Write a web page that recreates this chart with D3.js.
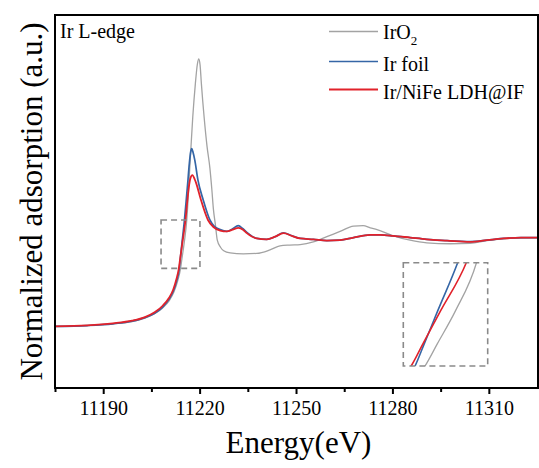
<!DOCTYPE html>
<html>
<head>
<meta charset="utf-8">
<script src="https://cdn.jsdelivr.net/npm/d3@7"></script>
<style>
  html, body { margin: 0; padding: 0; background: #fff; }
  svg { display: block; }
</style>
</head>
<body>
<svg id="chart" width="539" height="468"></svg>
<script>
// Ir L-edge XANES spectra: photon energy (eV) and normalized absorption
const irO2E  = [11175, 11185, 11193, 11199, 11203, 11206, 11208.5, 11210.5, 11212, 11213.2,
                11214.03, 11214.5, 11215.2, 11216.0, 11216.5, 11216.9, 11217.25, 11217.87, 11218.68, 11219.3,
                11219.74, 11220.15, 11220.55, 11221.4, 11222.3, 11223.2, 11223.8, 11224.3, 11224.9, 11225.5,
                11226.5, 11227.5, 11229.5, 11233.6, 11237.8, 11241.9, 11245, 11248, 11251.3, 11255.4,
                11259.6, 11263.7, 11267.9, 11270.9, 11273.1, 11275.2, 11280.3, 11285.5, 11290.7, 11298.0,
                11304.2, 11309.4, 11316.7, 11325.3];
const irO2Mu = [0, 0.01, 0.03, 0.055, 0.095, 0.145, 0.21, 0.29, 0.39, 0.52,
                0.65, 0.77, 0.95, 1.21, 1.50, 1.78, 2.0, 2.38, 2.76, 2.98,
                3.04, 2.97, 2.76, 2.38, 2.05, 1.80, 1.56, 1.33, 1.16, 0.98,
                0.90, 0.86, 0.835, 0.825, 0.83, 0.87, 0.915, 0.925, 0.93, 0.96,
                1.02, 1.08, 1.14, 1.145, 1.12, 1.10, 1.03, 0.98, 0.95, 0.94,
                0.945, 0.975, 1.00, 1.01];

const irFoilE  = [11175, 11185, 11193, 11199, 11203, 11206, 11208.5, 11210.5, 11211.8, 11212.8,
                  11213.65, 11214.0, 11214.52, 11215.28, 11215.75, 11216.3, 11216.8, 11217.2, 11217.55, 11217.95,
                  11218.5, 11219.5, 11221.1, 11223.2, 11224.5, 11226.4, 11228.5, 11230.3, 11232.0, 11233.5,
                  11235, 11237.8, 11240.9, 11243.5, 11246.1, 11248.7, 11251.3, 11255.4, 11259.6, 11263.7,
                  11267.9, 11273.1, 11276.2, 11280.2, 11285.5, 11290.7, 11297.0, 11304.2, 11309.4, 11314.6,
                  11320, 11325.3];
const irFoilMu = [0, 0.01, 0.03, 0.06, 0.10, 0.15, 0.22, 0.31, 0.40, 0.51,
                  0.65, 0.77, 0.95, 1.21, 1.40, 1.63, 1.85, 1.98, 2.02, 1.98,
                  1.89, 1.66, 1.44, 1.21, 1.14, 1.10, 1.08, 1.11, 1.145, 1.11,
                  1.06, 1.00, 0.99, 1.02, 1.065, 1.03, 1.00, 0.99, 0.975, 0.98,
                  1.01, 1.04, 1.04, 1.03, 1.01, 0.99, 0.975, 0.965, 0.98, 1.00,
                  1.01, 1.01];

const ldhE  = [11175, 11185, 11193, 11199, 11203, 11206, 11208.5, 11210.5, 11211.8, 11212.8,
               11213.5, 11213.95, 11214.63, 11215.61, 11216.1, 11216.6, 11217.1, 11217.75, 11218.5, 11219.0,
               11220.4, 11222.6, 11224.3, 11226.4, 11228.5, 11230.3, 11232.1, 11233.5, 11234.7, 11237.8,
               11240.9, 11243.5, 11246.1, 11248.7, 11251.3, 11255.4, 11259.6, 11263.7, 11267.9, 11273.1,
               11276.2, 11280.2, 11285.5, 11290.7, 11297.0, 11304.2, 11309.4, 11314.6, 11320, 11325.3];
const ldhMu = [0, 0.012, 0.035, 0.065, 0.105, 0.16, 0.235, 0.325, 0.42, 0.54,
               0.65, 0.77, 0.95, 1.21, 1.40, 1.57, 1.68, 1.72, 1.67, 1.62,
               1.44, 1.21, 1.13, 1.09, 1.08, 1.10, 1.12, 1.10, 1.06, 1.00,
               0.99, 1.02, 1.06, 1.03, 1.00, 0.99, 0.975, 0.98, 1.01, 1.04,
               1.04, 1.03, 1.01, 0.99, 0.975, 0.96, 0.98, 1.00, 1.01, 1.01];

const seriesNames = ["IrO", "Ir foil", "Ir/NiFe LDH@IF"];
const majorTicks = [11190, 11220, 11250, 11280, 11310];
const minorTicks = [11175, 11205, 11235, 11265, 11295];

// axis ranges
const energyDomain = [11175, 11325.3];
const muDomain = [-0.70, 3.54];
// region around the absorption edge, and the window shown enlarged
const zoomE = [11208.0, 11220.1];
const zoomMu = [0.66, 1.21];
const insetE = [11213.2, 11216.43];
const insetMu = [0.65, 1.21];

const FONT = '"Liberation Serif", "Times New Roman", Times, serif';

const svg = d3.select("#chart");
const M = { left: 55, right: 538, top: 15, bottom: 388 };

const x = d3.scaleLinear().domain(energyDomain).range([M.left, M.right]);
const y = d3.scaleLinear().domain(muDomain).range([M.bottom, M.top]);

const colors = ["#a3a3a3", "#3566a6", "#e1222b"];
const widths = [1.3, 1.7, 1.8];

const series = [
  d3.zip(irO2E, irO2Mu),
  d3.zip(irFoilE, irFoilMu),
  d3.zip(ldhE, ldhMu)
];

const defs = svg.append("defs");
defs.append("clipPath").attr("id", "plotClip")
  .append("rect")
  .attr("x", M.left).attr("y", M.top)
  .attr("width", M.right - M.left).attr("height", M.bottom - M.top);

const line = d3.line()
  .x(d => x(d[0])).y(d => y(d[1]))
  .curve(d3.curveMonotoneX);

const plot = svg.append("g").attr("clip-path", "url(#plotClip)");
series.forEach((s, i) => {
  plot.append("path")
    .attr("d", line(s))
    .attr("fill", "none")
    .attr("stroke", colors[i])
    .attr("stroke-width", widths[i])
    .attr("stroke-linejoin", "round");
});

// dashed marker around the edge region
svg.append("rect")
  .attr("x", x(zoomE[0])).attr("y", y(zoomMu[1]))
  .attr("width", x(zoomE[1]) - x(zoomE[0]))
  .attr("height", y(zoomMu[0]) - y(zoomMu[1]))
  .attr("fill", "none").attr("stroke", "#8a8a8a")
  .attr("stroke-width", 1.6).attr("stroke-dasharray", "6,4");

// enlarged view of the edge
const inset = { left: 403.3, right: 487.7, top: 262.7, bottom: 366 };
const xi = d3.scaleLinear().domain(insetE).range([inset.left, inset.right]);
const yi = d3.scaleLinear().domain(insetMu).range([inset.bottom, inset.top]);

defs.append("clipPath").attr("id", "insetClip")
  .append("rect")
  .attr("x", inset.left).attr("y", inset.top)
  .attr("width", inset.right - inset.left).attr("height", inset.bottom - inset.top);

const lineInset = d3.line()
  .x(d => xi(d[0])).y(d => yi(d[1]))
  .curve(d3.curveMonotoneX);

const insetG = svg.append("g").attr("clip-path", "url(#insetClip)");
series.forEach((s, i) => {
  insetG.append("path")
    .attr("d", lineInset(s))
    .attr("fill", "none")
    .attr("stroke", colors[i])
    .attr("stroke-width", i === 0 ? 1.3 : 1.6);
});

svg.append("rect")
  .attr("x", inset.left).attr("y", inset.top)
  .attr("width", inset.right - inset.left).attr("height", inset.bottom - inset.top)
  .attr("fill", "none").attr("stroke", "#8a8a8a")
  .attr("stroke-width", 1.6).attr("stroke-dasharray", "6,4");

// x axis: major ticks with labels, minor ticks between
const xAxis = svg.append("g")
  .attr("transform", `translate(0,${M.bottom})`)
  .call(d3.axisBottom(x).tickValues(majorTicks).tickSize(6).tickPadding(7)
        .tickFormat(d3.format("d")))
  .attr("font-family", FONT)
  .attr("font-size", 20);
xAxis.select(".domain").remove();
xAxis.selectAll(".tick line").attr("stroke", "#000").attr("stroke-width", 2);
xAxis.selectAll(".tick text").attr("fill", "#000");

const xMinor = svg.append("g")
  .attr("transform", `translate(0,${M.bottom})`)
  .call(d3.axisBottom(x).tickValues(minorTicks).tickSize(4).tickFormat(""));
xMinor.select(".domain").remove();
xMinor.selectAll(".tick line").attr("stroke", "#000").attr("stroke-width", 2);

// frame
svg.append("rect")
  .attr("x", M.left).attr("y", M.top)
  .attr("width", M.right - M.left).attr("height", M.bottom - M.top)
  .attr("fill", "none").attr("stroke", "#000").attr("stroke-width", 2);

// axis titles
svg.append("text")
  .attr("x", (M.left + M.right) / 2 + 2).attr("y", 453)
  .attr("text-anchor", "middle")
  .attr("font-family", FONT).attr("font-size", 31)
  .text("Energy(eV)");

svg.append("text")
  .attr("transform", `translate(42,${(M.top + M.bottom) / 2}) rotate(-90)`)
  .attr("text-anchor", "middle")
  .attr("font-family", FONT).attr("font-size", 31)
  .text("Normalized adsorption (a.u.)");

svg.append("text")
  .attr("x", 60).attr("y", 38)
  .attr("font-family", FONT).attr("font-size", 20)
  .text("Ir L-edge");

// legend
const legendRows = [31.5, 61.5, 89.5];
seriesNames.forEach((name, i) => {
  svg.append("line")
    .attr("x1", 329).attr("x2", 378)
    .attr("y1", legendRows[i]).attr("y2", legendRows[i])
    .attr("stroke", colors[i]).attr("stroke-width", widths[i]);
  const t = svg.append("text")
    .attr("x", 383).attr("y", legendRows[i] + 7 + (i === 0 ? 0 : 2))
    .attr("font-family", FONT).attr("font-size", 20)
    .text(name);
  if (i === 0) {
    t.append("tspan").attr("dy", 6).attr("font-size", 13).text("2");
  }
});
</script>
</body>
</html>
